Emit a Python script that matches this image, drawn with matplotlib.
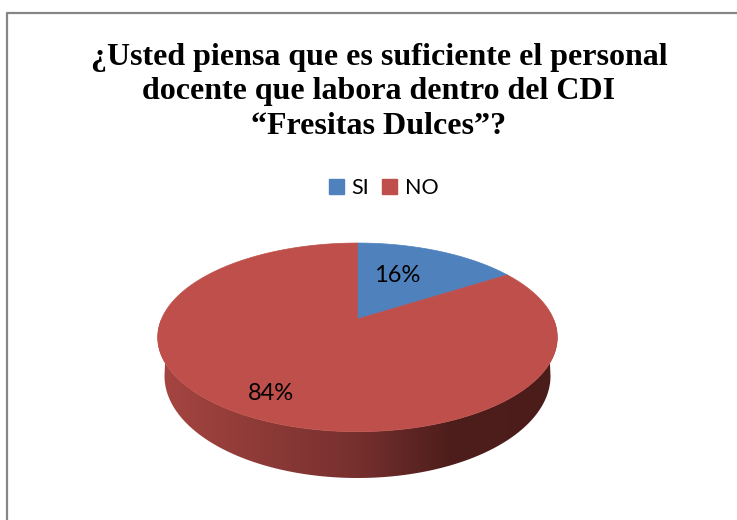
import numpy as np
from matplotlib import pyplot as plt
from matplotlib.colors import LinearSegmentedColormap
from matplotlib.patches import Patch, Polygon

title = '¿Usted piensa que es suficiente el personal\ndocente que labora dentro del CDI\n“Fresitas Dulces”?'
categories = ['SI', 'NO']
values = [16, 84]
value_labels = ['16%', '84%']
colors = ['#4F81BD', '#BE4F4B']


def project(angle):
    ''' unit circle to screen pixels, the perspective moves the centre up from the middle '''
    u = np.sin(angle)
    v = np.cos(angle)
    w = 1 + 0.1945 * v
    return 357.5 + 196 * u / w, (319 - 28.7 * v) / w


fig = plt.figure(figsize=(7.37, 5.2), dpi=100)
ax = fig.add_axes([0, 0, 1, 1])
ax.axis('off')

# side of the pie, lower half of the top rim down to the lower half of the base
t = np.linspace(np.pi / 2 - 0.12, 3 * np.pi / 2 + 0.12, 200)
rim_x, rim_y = project(t)
s = np.linspace(np.pi, 0, 200)
base_x = 357.5 + 193 * np.cos(s)
base_y = 376 + 102 * np.sin(s)
side = Polygon(np.column_stack([np.r_[rim_x, base_x], np.r_[rim_y, base_y]]),
               closed=True, transform=ax.transData, facecolor='none', edgecolor='none')
ax.add_patch(side)

# shading runs from left to right
shade = LinearSegmentedColormap.from_list('shade', [(0, '#A84642'), (0.5, '#76302E'),
                                                    (0.72, '#4E1E1C'), (1, '#4A1C1A')])
img = ax.imshow(np.linspace(0, 1, 256).reshape(1, -1), cmap=shade, aspect='auto',
                extent=[150, 565, 485, 320], zorder=1)
img.set_clip_path(side)

# top face, starting at 12 o'clock and going clockwise
edges = np.r_[0, np.cumsum(values)] / np.sum(values) * 2 * np.pi
for i in range(len(values)):
    a = np.linspace(edges[i], edges[i + 1], 200)
    x, y = project(a)
    ax.fill(np.r_[357.5, x], np.r_[319, y], color=colors[i], lw=0.5, zorder=2)

ax.text(397, 275, value_labels[0], fontsize=17, family='Lato', color='black',
        ha='center', va='center', zorder=3)
ax.text(271, 393, value_labels[1], fontsize=17, family='Lato', color='black',
        ha='center', va='center', zorder=3)

ax.text(379, 92, title, fontsize=23, family='Liberation Serif', fontweight='bold',
        ha='center', va='center', linespacing=1.23)

# chart border, cropped at the right and at the bottom
ax.plot([7.5, 7.5, 737], [520, 13, 13], color='#868686', lw=1.6, zorder=4)

handles = [Patch(color=colors[i], label=categories[i]) for i in range(len(categories))]
ax.legend(handles=handles, loc='center', bbox_to_anchor=(383.5 / 737, 1 - 188 / 520), ncol=2,
          frameon=False, prop={'family': 'Lato', 'size': 15.5}, handlelength=0.7,
          handleheight=0.7, handletextpad=0.35, columnspacing=0.6)

ax.set_xlim(0, 737)
ax.set_ylim(520, 0)

plt.savefig('out.png', dpi=100)
